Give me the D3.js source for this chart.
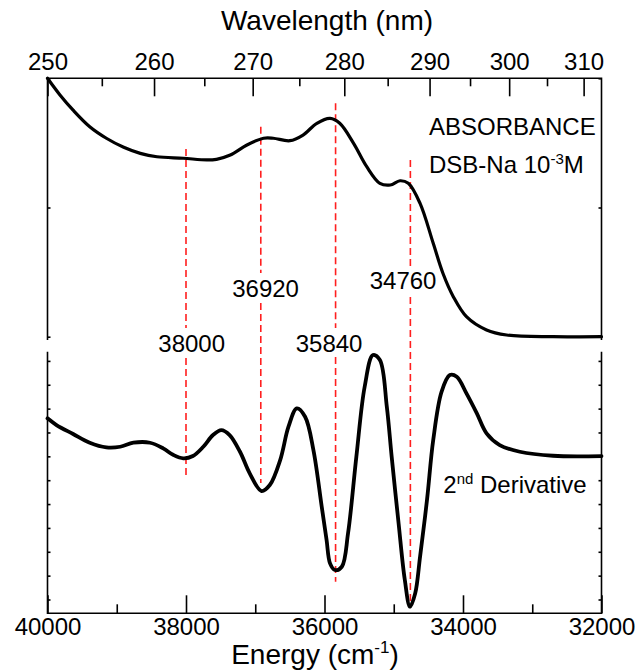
<!DOCTYPE html>
<html>
<head>
<meta charset="utf-8">
<script src="https://cdn.jsdelivr.net/npm/d3@7"></script>
<style>
  body { margin: 0; background: #fff; }
  svg text { font-family: "Liberation Sans", Arial, Helvetica, sans-serif; fill: #000; }
</style>
</head>
<body>
<svg id="chart" width="635" height="671"></svg>
<script>
// Absorbance spectrum of DSB-Na (1e-3 M), energy in cm^-1
const absEnergy = [40000, 39820, 39630, 39390, 39150, 38900, 38660, 38420, 38040, 37700,
  37560, 37360, 37120, 36880, 36740, 36500, 36310, 36110, 35920, 35780,
  35580, 35390, 35200, 35050, 34910, 34790, 34620, 34430, 34290, 34140,
  33950, 33660, 33370, 32700, 32000];
const absValue = [2.000, 1.871, 1.753, 1.625, 1.536, 1.466, 1.419, 1.393, 1.381, 1.368,
  1.373, 1.406, 1.484, 1.536, 1.536, 1.517, 1.561, 1.652, 1.690, 1.652,
  1.497, 1.316, 1.187, 1.174, 1.207, 1.187, 1.032, 0.723, 0.491, 0.310,
  0.155, 0.052, 0.013, 0.000, 0.000];

// Second derivative of the absorbance (arbitrary units)
const derEnergy = [40000, 39870, 39630, 39390, 39150, 38950, 38760, 38520, 38330, 38180,
  38040, 37900, 37750, 37610, 37490, 37370, 37220, 37080, 36910, 36790,
  36640, 36520, 36400, 36280, 36160, 36040, 35970, 35920, 35850, 35750,
  35660, 35540, 35420, 35300, 35200, 35100, 35030, 34930, 34840, 34765,
  34690, 34620, 34520, 34430, 34310, 34190, 34090, 33950, 33800, 33660,
  33470, 33180, 32700, 32000];
const derValue = [1.593, 1.312, 0.935, 0.570, 0.377, 0.402, 0.570, 0.570, 0.335, 0.054,
  -0.084, 0.013, 0.402, 0.893, 1.102, 0.893, 0.193, -0.712, -1.454, -1.203,
  -0.155, 1.241, 2.012, 1.660, 0.264, -2.112, -3.508, -4.485, -4.765, -4.627,
  -3.227, -0.017, 2.917, 4.246, 4.036, 2.079, -0.017, -2.808, -5.184, -6.303,
  -5.742, -4.208, -1.832, 0.683, 2.700, 3.407, 3.336, 2.640, 1.802, 0.964,
  0.474, 0.193, 0.025, 0.013];

// Band positions marked on both spectra (cm^-1)
const peakEnergy = [38000, 36920, 35840, 34760];

// Tick values
const energyMajor = [40000, 38000, 36000, 34000, 32000];
const energyMinor = [39000, 37000, 35000, 33000];
const wavelengthMajor = [250, 260, 270, 280, 290, 300, 310];
const wavelengthMinor = [255, 265, 275, 285, 295, 305];
const absTicks = [0, 1, 2];
const derTicks = [-6, -5, -4, -3, -2, -1, 0, 1, 2, 3, 4];

// ---- layout ----
const L = 47.5, R = 601.5;
const topPanel = { top: 78.3, bottom: 340 };
const botPanel = { top: 351.7, bottom: 613.3 };

const svg = d3.select("#chart");

const x = d3.scaleLinear().domain([40000, 32000]).range([L, R]);
const yA = d3.scaleLinear().domain([0, 2]).range([336.7, 78.3]);
const yD = d3.scaleLinear().domain([-6, 4]).range([599.5, 360.9]);

const AXW = 1.6;
function styleAxis(g) {
  g.select(".domain").remove();
  g.selectAll(".tick line").attr("stroke", "#000").attr("stroke-width", AXW);
  g.selectAll(".tick text").attr("font-size", 24).attr("fill", "#000")
    .attr("font-family", '"Liberation Sans", Arial, sans-serif');
}

// ---- band markers (red dashed) ----
const markerLayout = [
  { top: 149,   bottom: 475,   gapTop: 328, gapBot: 358, labelY: 351.7, dx: 5.7 },
  { top: 126.7, bottom: 483,   gapTop: 273, gapBot: 303, labelY: 296.7, dx: 4.8 },
  { top: 103.3, bottom: 581.7, gapTop: 328, gapBot: 357, labelY: 351.7, dx: -6.5 },
  { top: 160,   bottom: 603,   gapTop: 269, gapBot: 297, labelY: 289.3, dx: -7.3 }
];
const markers = svg.append("g").attr("class", "markers");
peakEnergy.forEach((e, i) => {
  const m = markerLayout[i];
  const px = x(e);
  [[m.top, m.gapTop], [m.gapBot, m.bottom]].forEach(([a, b]) => {
    markers.append("line")
      .attr("x1", px).attr("x2", px).attr("y1", a).attr("y2", b)
      .attr("stroke", "#ff1f1f").attr("stroke-width", 1.6)
      .attr("stroke-dasharray", "7,4");
  });
  svg.append("text")
    .attr("x", px + m.dx).attr("y", m.labelY)
    .attr("text-anchor", "middle").attr("font-size", 24)
    .text(d3.format("d")(e));
});

// ---- curves ----
const absData = absEnergy.map((e, i) => [e, absValue[i]]);
const derData = derEnergy.map((e, i) => [e, derValue[i]]);

svg.append("path")
  .datum(absData)
  .attr("fill", "none").attr("stroke", "#000").attr("stroke-width", 3.2)
  .attr("stroke-linejoin", "round").attr("stroke-linecap", "round")
  .attr("d", d3.line().x(d => x(d[0])).y(d => yA(d[1])).curve(d3.curveCatmullRom.alpha(0.5)));

svg.append("path")
  .datum(derData)
  .attr("fill", "none").attr("stroke", "#000").attr("stroke-width", 3.8)
  .attr("stroke-linejoin", "round").attr("stroke-linecap", "round")
  .attr("d", d3.line().x(d => x(d[0])).y(d => yD(d[1])).curve(d3.curveCatmullRom.alpha(0.5)));

// ---- frames ----
svg.append("path")
  .attr("d", `M${L},${topPanel.bottom}V${topPanel.top}H${R}V${topPanel.bottom}`)
  .attr("fill", "none").attr("stroke", "#000").attr("stroke-width", AXW);
svg.append("path")
  .attr("d", `M${L},${botPanel.top}V${botPanel.bottom}H${R}V${botPanel.top}`)
  .attr("fill", "none").attr("stroke", "#000").attr("stroke-width", AXW);

// ---- bottom energy axis ----
svg.append("g").attr("transform", `translate(0,${botPanel.bottom})`)
  .call(d3.axisBottom(x).tickValues(energyMajor).tickSizeInner(-18).tickSizeOuter(0)
    .tickPadding(5).tickFormat(d3.format("d")))
  .call(styleAxis);
svg.append("g").attr("transform", `translate(0,${botPanel.bottom})`)
  .call(d3.axisBottom(x).tickValues(energyMinor).tickSizeInner(-9).tickSizeOuter(0).tickFormat(""))
  .call(styleAxis);

// ---- top wavelength axis (lambda = 1e7 / energy) ----
const toE = nm => 1e7 / nm;
svg.append("g").attr("transform", `translate(0,${topPanel.top})`)
  .call(d3.axisTop(x).tickValues(wavelengthMajor.map(toE)).tickSizeInner(-18).tickSizeOuter(0)
    .tickPadding(8).tickFormat(e => Math.round(1e7 / e)))
  .call(styleAxis);
svg.append("g").attr("transform", `translate(0,${topPanel.top})`)
  .call(d3.axisTop(x).tickValues(wavelengthMinor.map(toE)).tickSizeInner(-8).tickSizeOuter(0).tickFormat(""))
  .call(styleAxis);

// ---- side ticks ----
svg.append("g").attr("transform", `translate(${L},0)`)
  .call(d3.axisLeft(yA).tickValues(absTicks).tickSizeInner(-3).tickSizeOuter(0).tickFormat(""))
  .call(styleAxis);
svg.append("g").attr("transform", `translate(${R},0)`)
  .call(d3.axisRight(yA).tickValues(absTicks).tickSizeInner(-3).tickSizeOuter(0).tickFormat(""))
  .call(styleAxis);
svg.append("g").attr("transform", `translate(${L},0)`)
  .call(d3.axisLeft(yD).tickValues(derTicks).tickSizeInner(-3).tickSizeOuter(0).tickFormat(""))
  .call(styleAxis);
svg.append("g").attr("transform", `translate(${R},0)`)
  .call(d3.axisRight(yD).tickValues(derTicks).tickSizeInner(-3).tickSizeOuter(0).tickFormat(""))
  .call(styleAxis);

// ---- titles ----
svg.append("text").attr("x", 327).attr("y", 30).attr("text-anchor", "middle")
  .attr("font-size", 28).text("Wavelength (nm)");

const et = svg.append("text").attr("x", 315).attr("y", 664).attr("text-anchor", "middle")
  .attr("font-size", 28);
et.append("tspan").text("Energy (cm");
et.append("tspan").attr("font-size", 17).attr("dy", -11).text("-1");
et.append("tspan").attr("dy", 11).text(")");

// ---- panel annotations ----
svg.append("text").attr("x", 429).attr("y", 135).attr("font-size", 24).text("ABSORBANCE");
const dsb = svg.append("text").attr("x", 429).attr("y", 173.3).attr("font-size", 24);
dsb.append("tspan").text("DSB-Na 10");
dsb.append("tspan").attr("font-size", 15).attr("dy", -9).text("-3");
dsb.append("tspan").attr("dy", 9).text("M");

const der = svg.append("text").attr("x", 443.3).attr("y", 493.3).attr("font-size", 24);
der.append("tspan").text("2");
der.append("tspan").attr("font-size", 15).attr("dy", -9).text("nd");
der.append("tspan").attr("dy", 9).text(" Derivative");
</script>
</body>
</html>
